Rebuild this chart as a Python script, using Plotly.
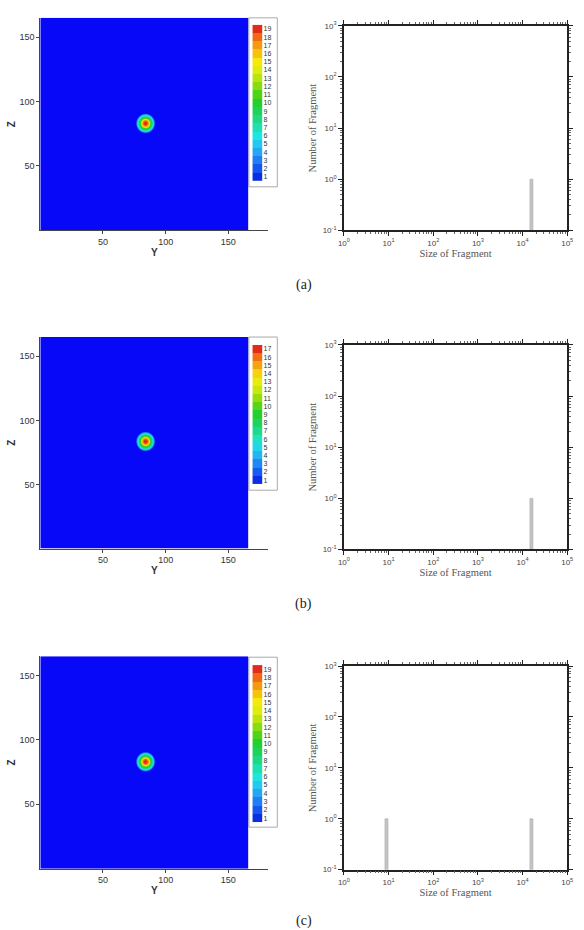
import numpy as np
import plotly.graph_objects as go
from plotly.colors import sample_colorscale

W, H = 584, 930

# ---------------- data ----------------
grid_y = np.arange(0, 166.01, 0.5)          # Y coordinate of field
grid_z = np.arange(0, 165.01, 0.5)          # Z coordinate of field
blob_center = [(84, 83), (84, 83.5), (84, 83)]
profile_r = [0, 1, 2, 2.5, 3, 3.5, 4, 5, 6, 6.7, 7.3, 7.8, 9, 300]
profile_v = [
    [19.6, 19.3, 18.5, 17, 15, 13, 11, 9, 7, 5, 2, 0.5, 0, 0],
    [17.6, 17.3, 16.6, 15.3, 13.5, 11.7, 9.9, 8.1, 6.3, 4.5, 1.8, 0.45, 0, 0],
    [19.6, 19.3, 18.5, 17, 15, 13, 11, 9, 7, 5, 2, 0.5, 0, 0],
]
n_levels = [19, 17, 19]

level_colors = ["#0a2ee6", "#1457f0", "#1f7ef5", "#25a6f5", "#22c8f2", "#1de6e0",
                "#1ee0b0", "#1ed884", "#1ed35a", "#22d030", "#50d418", "#88dc10",
                "#b8e410", "#e0ec10", "#f5e80a", "#f5c40a", "#f59a10", "#f06a14",
                "#e42a18"]
bg_color = "#0808f8"

frag_size = [[15849], [15849], [9, 15849]]
frag_count = [[1], [1], [1, 1]]

x_ticks = [50, 100, 150]
log_tickvals_x = [1, 10, 100, 1000, 10000, 100000]
log_ticktext_x = ["10<sup>%d</sup>" % i for i in range(6)]
log_tickvals_y = [0.1, 1, 10, 100, 1000]
log_ticktext_y = ["10<sup>-1</sup>", "10<sup>0</sup>", "10<sup>1</sup>", "10<sup>2</sup>", "10<sup>3</sup>"]
captions = ["(a)", "(b)", "(c)"]

# ---------------- layout geometry (pixels) ----------------
left_plot = [(12, 227), (335, 549), (658, 873)]
right_plot = [(20, 227), (343, 550), (668, 874)]
bar_px = [(19, 177), (343, 484), (667, 826)]
box_px = [(12, 183), (335, 490), (659, 831)]
caption_y = [282, 605, 926]

def px_x(p):
    return p / W

def px_y(p):
    return 1 - p / H

base_scale = [[i / 18, c] for i, c in enumerate(level_colors)]

fig = go.Figure()
layout = dict(width=W, height=H, margin=dict(l=0, r=0, t=0, b=0),
              paper_bgcolor="white", plot_bgcolor="rgba(0,0,0,0)",
              showlegend=False, shapes=[], annotations=[])

YY, ZZ = np.meshgrid(np.array(grid_y), np.array(grid_z))

for r in range(3):
    n = n_levels[r]
    lv_cols = sample_colorscale(base_scale, [k / (n - 1) for k in range(n)], colortype="rgb")
    cscale = [[0, bg_color]] + [[(k + 1) / n, lv_cols[k]] for k in range(n)]
    cx, cy = blob_center[r]
    rad = np.sqrt((YY - cx) ** 2 + (ZZ - cy) ** 2)
    field = np.interp(rad, profile_r, profile_v[r])

    a1, a2, a3 = 3 * r + 1, 3 * r + 2, 3 * r + 3
    s1 = "" if a1 == 1 else str(a1)
    s2, s3 = str(a2), str(a3)

    fig.add_trace(go.Contour(x=grid_y, z=field, y=grid_z, xaxis="x" + s1, yaxis="y" + s1,
                             contours=dict(start=1, end=n, size=1, coloring="fill"),
                             line=dict(width=0), colorscale=cscale, showscale=False,
                             hoverinfo="skip"))
    # legend bar
    levels = list(range(1, n + 1))
    fig.add_trace(go.Heatmap(z=[[v] for v in levels], y=levels, x=[0],
                             xaxis="x" + s3, yaxis="y" + s3,
                             colorscale=[[k / (n - 1), lv_cols[k]] for k in range(n)],
                             zmin=1, zmax=n, showscale=False, hoverinfo="skip"))
    # fragment bars (bar width in data units on the log axis)
    fig.add_trace(go.Bar(x=frag_size[r], y=frag_count[r], xaxis="x" + s2, yaxis="y" + s2,
                         width=[s * 0.16 for s in frag_size[r]],
                         marker=dict(color="#c4c4c4", line=dict(color="#a8a8a8", width=0.5))))

    lt, lb = left_plot[r]
    ldom_y = [px_y(lb), px_y(lt)]
    layout["xaxis" + s1] = dict(domain=[px_x(35), px_x(268)], range=[0, 182], anchor="y" + s1,
                                tickvals=x_ticks, ticks="outside", ticklen=3, tickcolor="#444",
                                showline=True, linecolor="#444", linewidth=1, showgrid=False,
                                zeroline=False, tickfont=dict(family="Liberation Sans", size=9, color="#333"),
                                title=dict(text="<b>Y</b>", font=dict(family="Liberation Sans", size=10, color="#333"),
                                           standoff=2))
    layout["yaxis" + s1] = dict(domain=ldom_y, range=[0, 165], anchor="x" + s1,
                                tickvals=x_ticks, ticks="outside", ticklen=3, tickcolor="#444",
                                showline=True, linecolor="#444", linewidth=1, showgrid=False,
                                zeroline=False, tickfont=dict(family="Liberation Sans", size=9, color="#333"),
                                title=dict(text="<b>Z</b>", font=dict(family="Liberation Sans", size=10, color="#333"),
                                           standoff=1))
    bt, bb = bar_px[r]
    layout["xaxis" + s3] = dict(domain=[px_x(251.5), px_x(262)], anchor="y" + s3, visible=False,
                                range=[-0.5, 0.5])
    layout["yaxis" + s3] = dict(domain=[px_y(bb), px_y(bt)], anchor="x" + s3, side="right",
                                range=[0.5, n + 0.5], tickvals=levels, ticks="", showgrid=False,
                                zeroline=False, showline=False,
                                tickfont=dict(family="Liberation Sans", size=7, color="#333"))
    xt, xb = box_px[r]
    layout["shapes"].append(dict(type="rect", xref="paper", yref="paper", layer="below",
                                 x0=px_x(248), x1=px_x(277), y0=px_y(xb), y1=px_y(xt),
                                 fillcolor="white", line=dict(color="#aaaaaa", width=1)))

    rt, rb = right_plot[r]
    log_common = dict(type="log", showline=True, linecolor="#222", linewidth=1.5, mirror="allticks",
                      ticks="outside", ticklen=4, tickwidth=1, tickcolor="#222", showgrid=False,
                      zeroline=False, tickfont=dict(family="Liberation Sans", size=8, color="#444"),
                      minor=dict(ticks="outside", ticklen=2, tickcolor="#666", dtick="D1", showgrid=False))
    layout["xaxis" + s2] = dict(log_common, domain=[px_x(345), px_x(573)], range=[0, 5], anchor="y" + s2,
                                tickvals=log_tickvals_x, ticktext=log_ticktext_x,
                                title=dict(text="Size of Fragment", standoff=2,
                                           font=dict(family="Liberation Serif", size=10.5, color="#555")))
    layout["yaxis" + s2] = dict(log_common, domain=[px_y(rb), px_y(rt)], range=[-1, 3], anchor="x" + s2,
                                tickvals=log_tickvals_y, ticktext=log_ticktext_y,
                                title=dict(text="Number of Fragment", standoff=4,
                                           font=dict(family="Liberation Serif", size=10.5, color="#555")))
    layout["annotations"].append(dict(text=captions[r], xref="paper", yref="paper", x=px_x(304),
                                      y=px_y(caption_y[r]), showarrow=False, yanchor="middle",
                                      xanchor="center",
                                      font=dict(family="Liberation Serif", size=14, color="#222")))

fig.update_layout(**layout)
fig.write_html("out.html")
